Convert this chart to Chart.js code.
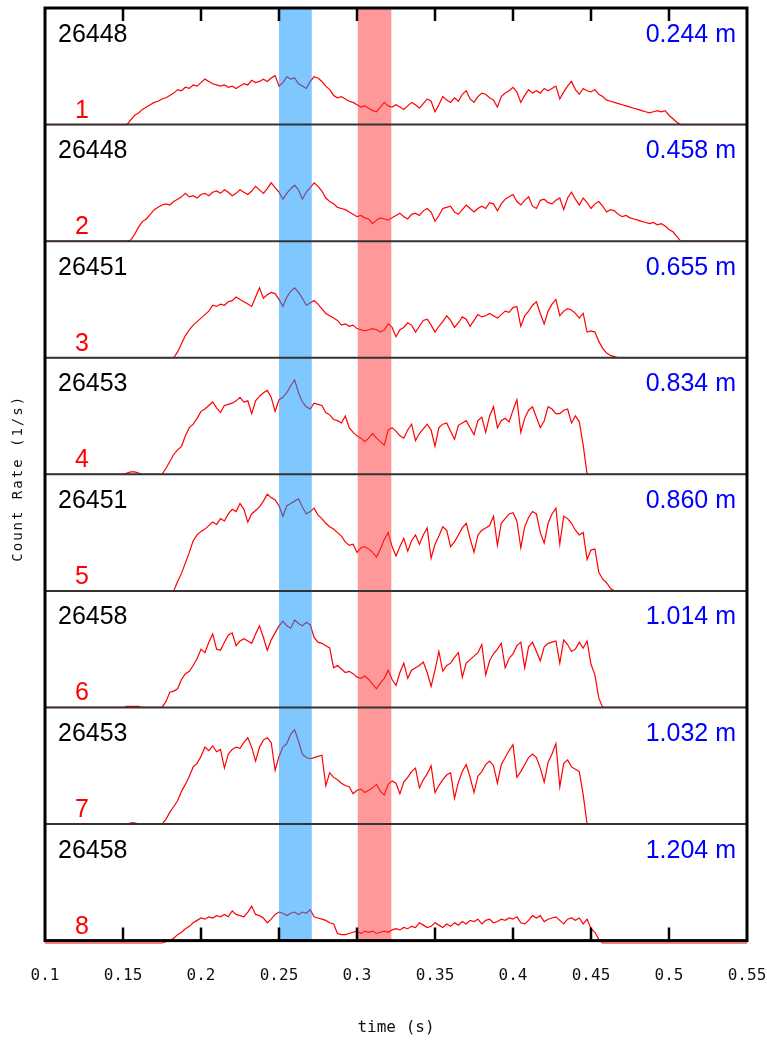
<!DOCTYPE html>
<html>
<head>
<meta charset="utf-8">
<script src="https://cdn.jsdelivr.net/npm/chart.js@4.4.1/dist/chart.umd.min.js"></script>
<style>
  html, body { margin: 0; padding: 0; background: #fff; }
</style>
</head>
<body>
<canvas id="rates" width="767" height="1040"></canvas>
<script>
// sampled count rate, % of panel height, every dt seconds starting at t0
const t0 = 0.14;
const dt = 0.0025;

const rate1 = [
  0, 0, 0, 0, 0, 0, 4, 8, 10, 13, 15, 17, 19, 20, 22, 23, 25, 27, 30, 29,
  32, 31, 34, 33, 36, 39, 37, 35, 34, 33, 34, 32, 33, 31, 33, 35, 34, 38, 36, 37,
  39, 37, 40, 42, 33, 36, 41, 39, 40, 35, 33, 31, 37, 41, 40, 37, 33, 30, 25, 23,
  24, 22, 20, 19, 17, 15, 16, 14, 12, 11, 15, 19, 16, 15, 17, 15, 13, 16, 19, 17,
  14, 18, 22, 20, 11, 17, 24, 21, 19, 23, 20, 26, 29, 22, 19, 24, 27, 26, 23, 21,
  15, 24, 27, 29, 32, 28, 19, 25, 30, 27, 29, 27, 31, 29, 31, 33, 22, 28, 33, 37,
  30, 26, 31, 29, 28, 30, 26, 24, 21, 20, 19, 18, 17, 16, 15, 14, 13, 12, 11, 10,
  11, 12, 11, 12, 8, 5, 2, 0, 0
];
const rate2 = [
  0, 0, 0, 0, 0, 0, 1, 6, 12, 17, 19, 23, 27, 29, 31, 32, 31, 34, 36, 38,
  41, 38, 39, 37, 40, 41, 39, 42, 43, 41, 44, 42, 39, 41, 44, 42, 40, 43, 47, 44,
  41, 45, 50, 46, 42, 36, 41, 45, 48, 44, 36, 42, 46, 50, 47, 43, 37, 34, 32, 29,
  28, 27, 25, 23, 21, 22, 20, 19, 15, 18, 20, 19, 18, 20, 22, 24, 21, 19, 23, 24,
  22, 26, 28, 25, 17, 22, 28, 29, 30, 25, 23, 27, 31, 28, 25, 28, 30, 28, 33, 32,
  26, 32, 36, 38, 40, 34, 31, 35, 38, 30, 28, 35, 36, 33, 32, 35, 37, 27, 37, 42,
  36, 31, 37, 33, 28, 32, 34, 30, 25, 27, 26, 23, 21, 22, 20, 19, 18, 17, 16, 15,
  16, 14, 15, 13, 10, 8, 4, 0, 0
];
const rate3 = [
  0, 0, 0, 0, 0, 0, 0, 0, 0, 0, 0, 0, 0, 0, 0, 0, 0, 0, 5, 12,
  19, 24, 28, 31, 34, 37, 40, 45, 44, 46, 45, 48, 49, 52, 50, 48, 46, 44, 52, 60,
  51, 54, 56, 55, 50, 44, 52, 57, 60, 56, 51, 45, 47, 49, 46, 42, 38, 36, 34, 32,
  28, 29, 27, 28, 25, 24, 23, 24, 25, 24, 22, 24, 29, 26, 18, 24, 26, 30, 28, 22,
  27, 32, 33, 28, 22, 27, 31, 36, 32, 26, 30, 35, 33, 27, 32, 37, 35, 36, 38, 36,
  34, 37, 40, 39, 43, 44, 27, 36, 40, 45, 48, 38, 29, 40, 46, 50, 36, 40, 42, 41,
  38, 34, 38, 22, 23, 22, 14, 8, 4, 2, 1, 0, 0, 0, 0, 0, 0, 0, 0, 0,
  0, 0, 0, 0, 0, 0, 0, 0, 0
];
const rate4 = [
  0, 0, 0, 0, 0, 1, 2, 2, 1, 0, 0, 0, 0, 0, 0, 5, 11, 17, 21, 24,
  33, 40, 43, 48, 54, 56, 59, 62, 57, 53, 59, 60, 61, 63, 66, 62, 63, 52, 63, 67,
  70, 72, 66, 54, 64, 66, 70, 76, 81, 70, 62, 58, 56, 61, 60, 59, 53, 51, 47, 46,
  44, 50, 40, 36, 33, 31, 28, 31, 35, 31, 28, 25, 38, 40, 37, 33, 31, 38, 43, 29,
  35, 39, 43, 38, 24, 40, 43, 44, 37, 30, 42, 44, 46, 40, 34, 46, 49, 36, 50, 58,
  40, 46, 48, 45, 55, 64, 36, 48, 55, 58, 49, 40, 46, 58, 56, 52, 52, 55, 56, 44,
  50, 45, 25, 0, 0, 0, 0, 0, 0, 0, 0, 0, 0, 0, 0, 0, 0, 0, 0, 0,
  0, 0, 0, 0, 0, 0, 0, 0, 0
];
const rate5 = [
  0, 0, 0, 0, 0, 0, 0, 0, 0, 0, 0, 0, 0, 0, 0, 0, 0, 0, 8, 15,
  24, 33, 43, 48, 51, 53, 56, 59, 57, 62, 60, 66, 70, 68, 75, 70, 59, 66, 69, 72,
  77, 83, 80, 78, 73, 64, 73, 75, 77, 79, 72, 66, 68, 71, 65, 62, 58, 55, 53, 50,
  47, 42, 39, 40, 33, 37, 38, 36, 33, 29, 36, 44, 50, 38, 30, 38, 45, 34, 43, 48,
  40, 48, 54, 28, 40, 47, 55, 52, 38, 42, 48, 54, 58, 45, 33, 48, 52, 54, 56, 64,
  39, 58, 62, 66, 67, 60, 37, 55, 63, 68, 66, 50, 41, 58, 66, 71, 40, 64, 62, 58,
  52, 48, 50, 27, 35, 36, 16, 10, 7, 2, 0, 0, 0, 0, 0, 0, 0, 0, 0, 0,
  0, 0, 0, 0, 0, 0, 0, 0, 0
];
const rate6 = [
  0, 0, 0, 0, 0, 1, 1, 1, 1, 0, 0, 0, 0, 0, 0, 5, 13, 14, 16, 24,
  29, 31, 36, 42, 50, 47, 56, 63, 50, 49, 56, 62, 64, 53, 57, 59, 57, 55, 63, 70,
  60, 49, 58, 64, 70, 74, 70, 68, 75, 72, 70, 73, 71, 60, 56, 55, 53, 51, 34, 36,
  33, 30, 31, 29, 26, 25, 27, 24, 20, 16, 21, 25, 32, 24, 19, 30, 38, 25, 32, 34,
  36, 39, 30, 18, 32, 48, 31, 36, 38, 43, 47, 26, 38, 41, 44, 47, 54, 28, 40, 46,
  50, 55, 34, 42, 46, 53, 56, 34, 52, 56, 48, 40, 52, 55, 56, 57, 38, 58, 54, 48,
  50, 56, 51, 57, 37, 28, 8, 0, 0, 0, 0, 0, 0, 0, 0, 0, 0, 0, 0, 0,
  0, 0, 0, 0, 0, 0, 0, 0, 0
];
const rate7 = [
  0, 0, 0, 0, 0, 0, 1, 1, 0, 0, 0, 0, 0, 0, 0, 4, 10, 15, 20, 28,
  34, 41, 49, 52, 58, 66, 63, 67, 62, 64, 48, 60, 64, 66, 65, 70, 74, 66, 54, 66,
  72, 74, 70, 46, 58, 66, 69, 77, 81, 71, 60, 57, 56, 57, 58, 59, 33, 44, 40, 38,
  35, 33, 32, 26, 29, 30, 27, 29, 31, 34, 28, 25, 34, 37, 35, 26, 36, 40, 45, 48,
  31, 38, 43, 50, 27, 33, 38, 42, 44, 22, 36, 45, 51, 40, 27, 41, 45, 51, 54, 50,
  35, 51, 57, 63, 68, 40, 45, 51, 57, 60, 57, 48, 36, 53, 60, 69, 32, 52, 55, 49,
  47, 45, 25, 0, 0, 0, 0, 0, 0, 0, 0, 0, 0, 0, 0, 0, 0, 0, 0, 0,
  0, 0, 0, 0, 0, 0, 0, 0, 0
];
const rate8 = [
  0, 0, 0, 0, 0, 0, 0, 0, 0, 0, 0, 0, 0, 0, 0, 1, 2, 4, 7, 9,
  12, 14, 17, 19, 21, 20, 22, 21, 23, 22, 24, 22, 27, 24, 23, 22, 26, 31, 24, 23,
  21, 17, 20, 24, 26, 25, 23, 25, 26, 24, 26, 25, 28, 22, 21, 20, 19, 17, 16, 8,
  7, 7, 8, 9, 10, 8, 10, 9, 10, 8, 9, 10, 9, 11, 12, 11, 13, 12, 14, 13,
  17, 15, 13, 14, 17, 15, 13, 16, 14, 17, 15, 18, 16, 19, 18, 20, 16, 19, 20, 17,
  18, 20, 19, 21, 20, 22, 17, 16, 19, 23, 21, 23, 18, 20, 21, 22, 19, 16, 20, 21,
  19, 21, 16, 20, 12, 9, 3, 0, 0, 0, 0, 0, 0, 0, 0, 0, 0, 0, 0, 0,
  0, 0, 0, 0, 0, 0, 0, 0, 0
];

const shots = ['26448', '26448', '26451', '26453', '26451', '26458', '26453', '26458'];
const radii = ['0.244 m', '0.458 m', '0.655 m', '0.834 m', '0.860 m', '1.014 m', '1.032 m', '1.204 m'];
const timeTicks = [0.1, 0.15, 0.2, 0.25, 0.3, 0.35, 0.4, 0.45, 0.5, 0.55];
const windows = [[0.25, 0.271], [0.3005, 0.322]];
const windowColors = ['rgba(0, 145, 255, 0.5)', 'rgba(255, 51, 51, 0.5)'];

const rates = [rate1, rate2, rate3, rate4, rate5, rate6, rate7, rate8];
const monoFont = 'DejaVu Sans Mono';

function toPoints(values) {
  let pts = [{x: timeTicks[0], y: 0}];
  values.forEach((v, i) => pts.push({x: t0 + i * dt, y: v}));
  pts.push({x: timeTicks[timeTicks.length - 1], y: 0});
  return pts;
}

let scales = {
  x: {
    type: 'linear',
    position: 'bottom',
    min: timeTicks[0],
    max: timeTicks[timeTicks.length - 1],
    grid: {display: false, drawTicks: false},
    border: {display: false},
    afterBuildTicks: (axis) => {
      axis.ticks = timeTicks.map((v) => ({value: v}));
    },
    // tick padding would otherwise widen the side margins
    afterFit: (axis) => {
      axis.paddingLeft = 0;
      axis.paddingRight = 0;
    },
    ticks: {
      autoSkip: false,
      maxRotation: 0,
      padding: 26,
      color: '#111',
      font: {family: monoFont, size: 16},
      callback: (v) => String(v)
    },
    title: {
      display: true,
      text: 'time (s)',
      color: '#111',
      font: {family: monoFont, size: 16},
      padding: {top: 6, bottom: 3}
    }
  }
};
// last declared left axis ends up on top of the stack
for (let p = rates.length; p >= 1; p--) {
  scales['p' + p] = {
    type: 'linear',
    position: 'left',
    stack: 'panels',
    stackWeight: 1,
    display: false,
    min: p === rates.length ? 2 : 0,
    max: 100
  };
}

const panelFrame = {
  id: 'panelFrame',
  afterDatasetsDraw(chart) {
    const {ctx, chartArea: area, scales: s} = chart;
    const x = s.x;
    ctx.save();

    windows.forEach(([a, b], k) => {
      const left = x.getPixelForValue(a);
      ctx.fillStyle = windowColors[k];
      ctx.fillRect(left, area.top, x.getPixelForValue(b) - left, area.bottom - area.top);
    });

    ctx.strokeStyle = '#333';
    ctx.lineWidth = 2;
    for (let p = 1; p < rates.length; p++) {
      const y = s['p' + p].bottom;
      ctx.beginPath();
      ctx.moveTo(area.left, y);
      ctx.lineTo(area.right, y);
      ctx.stroke();
    }

    ctx.strokeStyle = '#000';
    ctx.lineWidth = 3;
    ctx.strokeRect(area.left, area.top, area.right - area.left, area.bottom - area.top);

    ctx.lineWidth = 2.5;
    for (const v of timeTicks.slice(1, -1)) {
      const px = Math.round(x.getPixelForValue(v));
      ctx.beginPath();
      ctx.moveTo(px, area.top);
      ctx.lineTo(px, area.top + 13);
      ctx.moveTo(px, area.bottom);
      ctx.lineTo(px, area.bottom - 13);
      ctx.stroke();
    }
    ctx.restore();
  },
  afterDraw(chart) {
    const {ctx, chartArea: area, scales: s} = chart;
    ctx.save();
    ctx.font = '25px "Liberation Sans"';
    ctx.textBaseline = 'alphabetic';
    for (let p = 0; p < rates.length; p++) {
      const axis = s['p' + (p + 1)];
      ctx.fillStyle = '#000';
      ctx.textAlign = 'left';
      ctx.fillText(shots[p], area.left + 13, axis.top + 33.5);
      ctx.fillStyle = '#0000ff';
      ctx.textAlign = 'right';
      ctx.fillText(radii[p], area.right - 11, axis.top + 33.5);
      ctx.fillStyle = '#ff0000';
      ctx.textAlign = 'center';
      ctx.fillText(String(p + 1), area.left + 37, (p === rates.length - 1 ? area.bottom : axis.bottom) - 7);
    }

    ctx.translate(18, (area.top + area.bottom) / 2 + 4);
    ctx.rotate(-Math.PI / 2);
    ctx.font = '14px "' + monoFont + '"';
    ctx.letterSpacing = '2px';
    ctx.fillStyle = '#111';
    ctx.textAlign = 'center';
    ctx.textBaseline = 'middle';
    ctx.fillText('Count Rate (1/s)', 0, 0);
    ctx.restore();
  }
};

new Chart(document.getElementById('rates'), {
  type: 'line',
  data: {
    datasets: rates.map((r, i) => ({
      data: toPoints(r),
      xAxisID: 'x',
      yAxisID: 'p' + (i + 1),
      borderColor: '#ff0000',
      borderWidth: 1.2,
      pointRadius: 0,
      fill: false,
      tension: 0,
      clip: false
    }))
  },
  options: {
    responsive: false,
    animation: false,
    devicePixelRatio: 1,
    layout: {padding: {left: 45, right: 20, top: 8, bottom: 0}},
    plugins: {legend: {display: false}, tooltip: {enabled: false}},
    scales: scales
  },
  plugins: [panelFrame]
});
</script>
</body>
</html>
